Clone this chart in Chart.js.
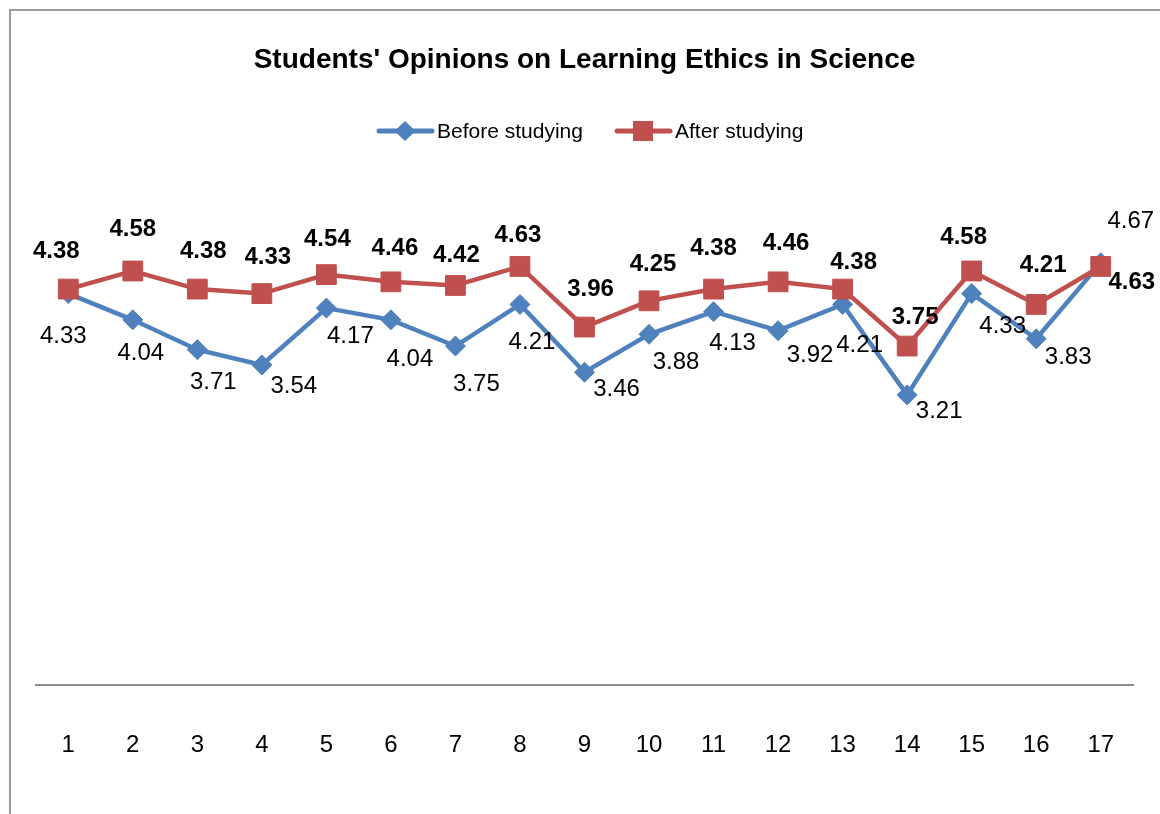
<!DOCTYPE html>
<html>
<head>
<meta charset="utf-8">
<title>Students' Opinions on Learning Ethics in Science</title>
<script src="https://cdn.jsdelivr.net/npm/chart.js@4/dist/chart.umd.min.js"></script>
<style>
  html, body { margin: 0; padding: 0; background: #fff; width: 1160px; height: 814px; overflow: hidden; }
  #frame { position: absolute; left: 9px; top: 9px; width: 1200px; height: 900px;
           border-left: 2px solid #9a9a9a; border-top: 2px solid #9a9a9a; box-sizing: border-box; }
  #chart { position: absolute; left: 0; top: 0; }
</style>
</head>
<body>
<div id="frame"></div>
<canvas id="chart" width="1172" height="814"></canvas>
<script>
// Item numbers on the category axis
const categories = ['1', '2', '3', '4', '5', '6', '7', '8', '9', '10', '11', '12', '13', '14', '15', '16', '17'];

// Mean scores per item
const beforeStudying = [4.33, 4.04, 3.71, 3.54, 4.17, 4.04, 3.75, 4.21, 3.46, 3.88, 4.13, 3.92, 4.21, 3.21, 4.33, 3.83, 4.67];
const afterStudying  = [4.38, 4.58, 4.38, 4.33, 4.54, 4.46, 4.42, 4.63, 3.96, 4.25, 4.38, 4.46, 4.38, 3.75, 4.58, 4.21, 4.63];

// Series names
const seriesNames = ['Before studying', 'After studying'];

// Value-label placement: offset [dx, dy] in px from each point to the label centre
const beforeLabelOffset = [
  [-5, 41], [8, 32], [16, 31], [32, 19], [24, 26], [19, 38], [21, 36], [12, 36], [32, 15],
  [27, 26], [19, 30], [32, 23], [17, 39], [32, 14], [31, 31], [32, 17], [30, -43]
];
const afterLabelOffset = [
  [-12, -40], [0, -44], [6, -40], [6, -38], [1, -37], [4, -35], [1, -32], [-2, -33], [6, -40],
  [4, -38], [0, -43], [8, -40], [11, -29], [8, -31], [-8, -36], [7, -41], [31, 14]
];

const BLUE = '#4F81BD';
const RED = '#C0504D';
const FONT = '"Liberation Sans", Arial, Helvetica, sans-serif';
// 'middle' sits a little above the optical centre of digits
const DIGIT_SHIFT = 2;

// Draws the value next to every point
const valueLabels = {
  id: 'valueLabels',
  afterDatasetsDraw(chart) {
    const ctx = chart.ctx;
    const specs = [
      { offsets: beforeLabelOffset, weight: 'normal' },
      { offsets: afterLabelOffset, weight: 'bold' }
    ];
    ctx.save();
    ctx.fillStyle = '#000';
    ctx.textAlign = 'center';
    ctx.textBaseline = 'middle';
    chart.data.datasets.forEach((ds, di) => {
      const meta = chart.getDatasetMeta(di);
      const spec = specs[di];
      ctx.font = spec.weight + ' 24px ' + FONT;
      meta.data.forEach((pt, i) => {
        const [dx, dy] = spec.offsets[i];
        ctx.fillText(ds.data[i].toFixed(2), pt.x + dx, pt.y + dy + DIGIT_SHIFT);
      });
    });
    ctx.restore();
  }
};

// Legend: line sample with marker, then the series name
const lineLegend = {
  id: 'lineLegend',
  afterDraw(chart) {
    const ctx = chart.ctx;
    const y = 131;
    const items = [
      { x: 377, color: BLUE, marker: 'diamond', text: seriesNames[0] },
      { x: 615, color: RED, marker: 'square', text: seriesNames[1] }
    ];
    ctx.save();
    items.forEach(it => {
      ctx.strokeStyle = it.color;
      ctx.fillStyle = it.color;
      ctx.lineWidth = 5;
      ctx.lineCap = 'round';
      ctx.beginPath();
      ctx.moveTo(it.x + 2, y);
      ctx.lineTo(it.x + 55, y);
      ctx.stroke();
      const cx = it.x + 28;
      ctx.beginPath();
      if (it.marker === 'diamond') {
        ctx.moveTo(cx, y - 10); ctx.lineTo(cx + 10.5, y); ctx.lineTo(cx, y + 10); ctx.lineTo(cx - 10.5, y);
        ctx.closePath();
      } else {
        ctx.rect(cx - 10, y - 10, 20, 20);
      }
      ctx.fill();
      ctx.fillStyle = '#000';
      ctx.font = 'normal 21px ' + FONT;
      ctx.textAlign = 'left';
      ctx.textBaseline = 'middle';
      ctx.fillText(it.text, it.x + 60, y + 1);
    });
    ctx.restore();
  }
};

new Chart(document.getElementById('chart'), {
  type: 'line',
  data: {
    labels: categories,
    datasets: [
      {
        label: seriesNames[0],
        data: beforeStudying,
        borderColor: BLUE,
        backgroundColor: BLUE,
        borderWidth: 4.5,
        pointStyle: 'rectRot',
        pointRadius: 10,
        pointHoverRadius: 10,
        pointBorderWidth: 1,
        pointBorderColor: BLUE,
        pointBackgroundColor: BLUE,
        tension: 0,
        order: 2
      },
      {
        label: seriesNames[1],
        data: afterStudying,
        borderColor: RED,
        backgroundColor: RED,
        borderWidth: 4.5,
        pointStyle: 'rect',
        pointRadius: 14,
        pointHoverRadius: 14,
        pointBorderWidth: 1,
        pointBorderColor: RED,
        pointBackgroundColor: RED,
        tension: 0,
        order: 1
      }
    ]
  },
  options: {
    responsive: false,
    animation: false,
    events: [],
    layout: { padding: { left: 36, right: 39, top: 0, bottom: 8 } },
    plugins: {
      legend: { display: false },
      tooltip: { enabled: false },
      title: {
        display: true,
        text: "Students' Opinions on Learning Ethics in Science",
        color: '#000',
        font: { family: FONT, size: 28, weight: 'bold' },
        padding: { top: 43, bottom: 156.4 }
      }
    },
    scales: {
      x: {
        offset: true,
        grid: { display: false, drawTicks: false },
        border: { display: true, color: '#8c8c8c', width: 2 },
        ticks: {
          padding: 46,
          color: '#000',
          autoSkip: false,
          maxRotation: 0,
          font: { family: FONT, size: 24 }
        }
      },
      y: { display: false, min: 0, max: 5 }
    }
  },
  plugins: [valueLabels, lineLegend]
});
</script>
</body>
</html>
